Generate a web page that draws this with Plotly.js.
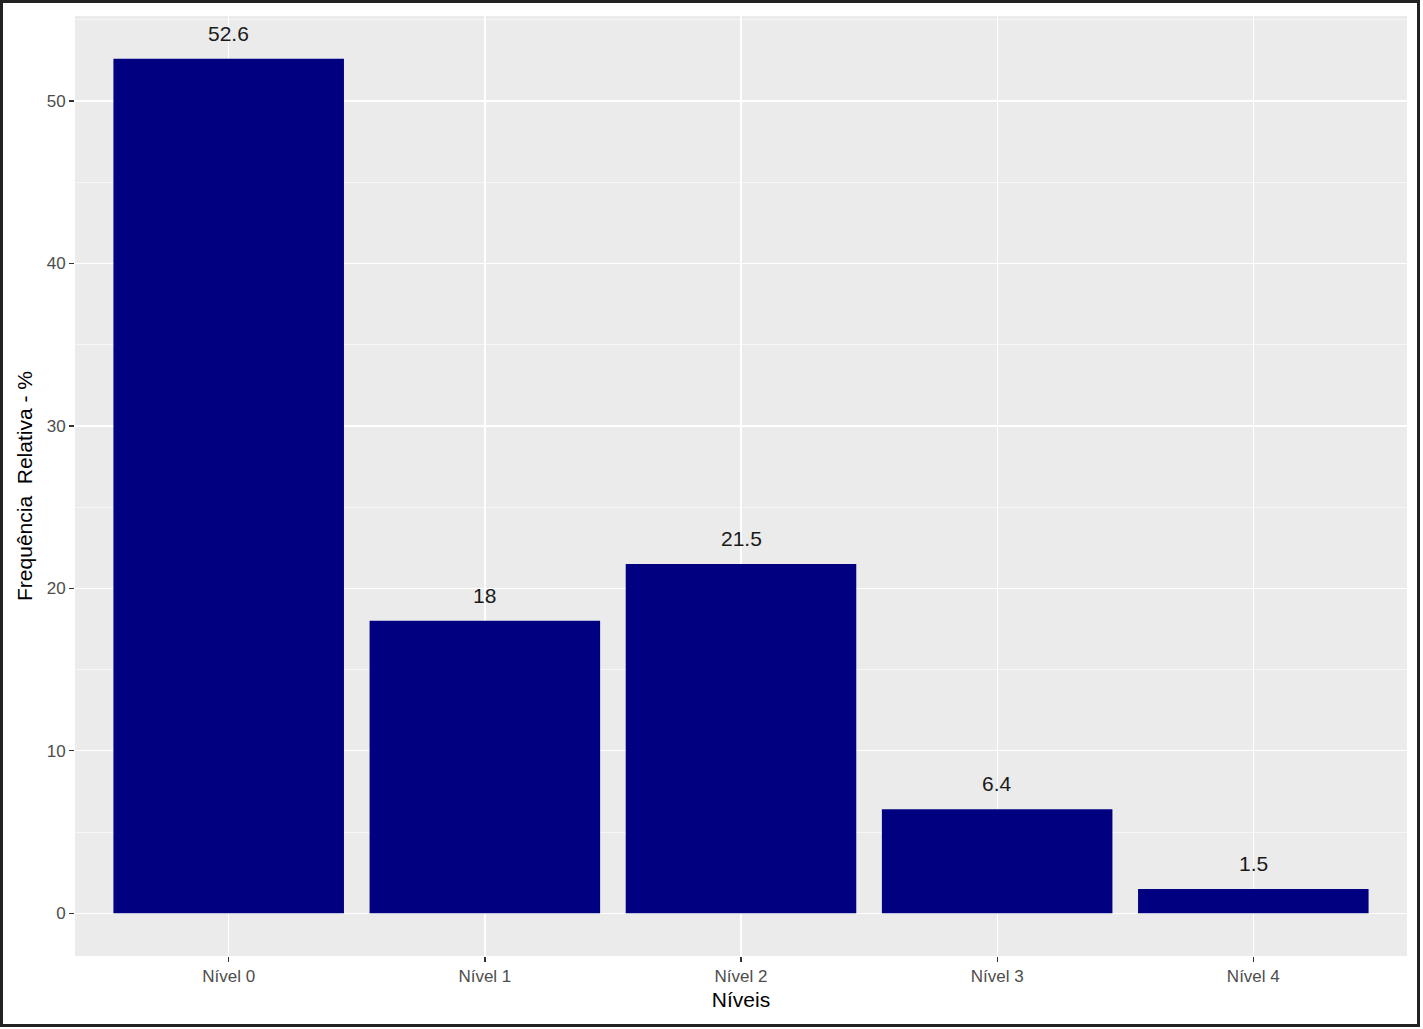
<!DOCTYPE html>
<html>
<head>
<meta charset="utf-8">
<script src="https://cdn.plot.ly/plotly-3.0.1.min.js"></script>
<style>
  body { margin: 0; background: #fff; }
  #frame {
    position: absolute; left: 0; top: 0;
    width: 1420px; height: 1027px;
    border: 3px solid #222; box-sizing: border-box;
  }
  #chart { width: 1414px; height: 1021px; }
</style>
</head>
<body>
<div id="frame"><div id="chart"></div></div>
<script>
// dados
const niveis = ['Nível 0', 'Nível 1', 'Nível 2', 'Nível 3', 'Nível 4'];
const frequencia = [52.6, 18, 21.5, 6.4, 1.5];
const rotulos = ['52.6', '18', '21.5', '6.4', '1.5'];

const trace = {
    type: 'bar',
    x: niveis,
    y: frequencia,
    width: 0.9,
    marker: { color: '#000080', line: { width: 0 } },
    hoverinfo: 'none'
};

// rótulos acima das barras
const anotacoes = niveis.map((n, i) => ({
    x: n,
    y: frequencia[i],
    text: rotulos[i],
    showarrow: false,
    yanchor: 'bottom',
    yshift: 12,
    font: { family: 'Liberation Sans, Arial, sans-serif', size: 21, color: '#1a1a1a' }
}));

const layout = {
    width: 1414,
    height: 1021,
    margin: { l: 72, r: 10, t: 13, b: 68 },
    paper_bgcolor: '#ffffff',
    plot_bgcolor: '#EBEBEB',
    font: { family: 'Liberation Sans, Arial, sans-serif' },
    showlegend: false,
    bargap: 0.1,
    xaxis: {
        type: 'category',
        range: [-0.6, 4.6],
        showgrid: true,
        gridcolor: '#ffffff',
        gridwidth: 1.3,
        zeroline: false,
        showline: false,
        ticks: 'outside',
        ticklen: 5,
        tickwidth: 1.3,
        tickcolor: '#333333',
        tickfont: { size: 17, color: '#4D4D4D' },
        title: { text: 'Níveis', font: { size: 21, color: '#000000' }, standoff: 6 }
    },
    yaxis: {
        range: [-2.63, 55.23],
        tickvals: [0, 10, 20, 30, 40, 50],
        showgrid: true,
        gridcolor: '#ffffff',
        gridwidth: 1.3,
        minor: { tickvals: [5, 15, 25, 35, 45, 55], showgrid: true, gridcolor: '#ffffff', gridwidth: 0.6 },
        zeroline: false,
        showline: false,
        ticks: 'outside',
        ticklen: 5,
        tickwidth: 1.3,
        tickcolor: '#333333',
        tickfont: { size: 17, color: '#4D4D4D' },
        title: { text: 'Frequência\u00a0\u00a0Relativa - %', font: { size: 21, color: '#000000' }, standoff: 8 }
    },
    annotations: anotacoes
};

Plotly.newPlot('chart', [trace], layout, { displayModeBar: false, staticPlot: true });
</script>
</body>
</html>
